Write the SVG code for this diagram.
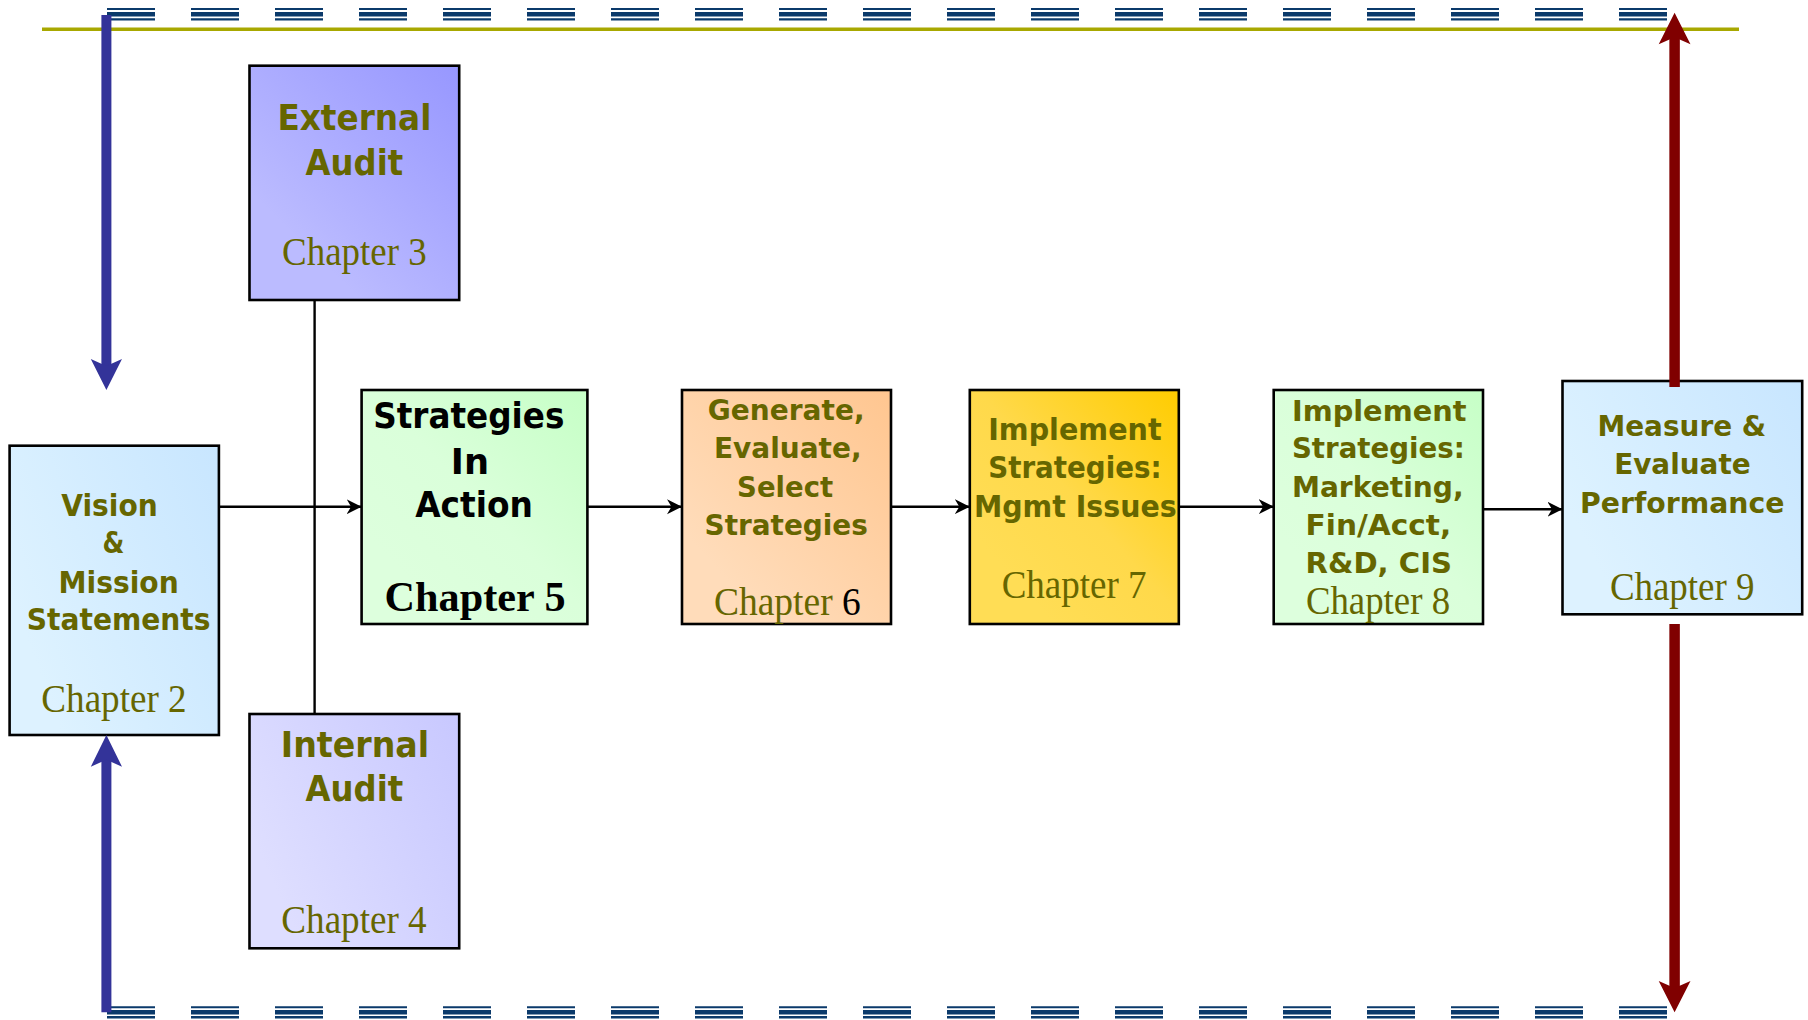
<svg xmlns="http://www.w3.org/2000/svg" width="1808" height="1020" viewBox="0 0 1808 1020">
<style>
.box{stroke:#000;stroke-width:2.6}
.t{font-family:"DejaVu Sans",Verdana,sans-serif;font-weight:bold;fill:#666600;text-anchor:middle}
.k{fill:#000}
.c{font-family:"Liberation Serif","Times New Roman",serif;fill:#666600;text-anchor:middle;font-size:39px}
.cb{font-family:"Liberation Serif","Times New Roman",serif;font-weight:bold;fill:#000;text-anchor:middle;font-size:43px}
.conn{stroke:#000;stroke-width:2.4;fill:none}
.dash{fill:none;stroke:#0b3a6b;stroke-dasharray:48 36}
</style>
<defs>
<marker id="ah" markerUnits="userSpaceOnUse" markerWidth="16" markerHeight="16" refX="15" refY="7.5" orient="auto">
<path d="M0,0 L15,7.5 L0,15 L4.5,7.5 Z" fill="#000"/>
</marker>
<linearGradient id="gExt" x1="1" y1="0" x2="0.3" y2="0.8"><stop offset="0" stop-color="#9797FF"/><stop offset="1" stop-color="#BBBBFF"/></linearGradient>
<linearGradient id="gInt" x1="1" y1="0" x2="0" y2="0.5"><stop offset="0" stop-color="#C8C8FF"/><stop offset="1" stop-color="#DEDEFF"/></linearGradient>
<linearGradient id="gBlue" x1="1" y1="0" x2="0" y2="0.5"><stop offset="0" stop-color="#C8E6FF"/><stop offset="1" stop-color="#DDF2FF"/></linearGradient>
<linearGradient id="gGreen" x1="1" y1="0" x2="0.2" y2="0.8"><stop offset="0" stop-color="#C6FFC6"/><stop offset="0.6" stop-color="#DAFFDA"/><stop offset="1" stop-color="#DDFFDD"/></linearGradient>
<linearGradient id="gPeach" x1="1" y1="0" x2="0.2" y2="0.8"><stop offset="0" stop-color="#FFC690"/><stop offset="1" stop-color="#FFDCBA"/></linearGradient>
<linearGradient id="gGold" x1="1" y1="0" x2="0.2" y2="0.8"><stop offset="0" stop-color="#FFCC00"/><stop offset="0.6" stop-color="#FFD94A"/><stop offset="1" stop-color="#FFDD55"/></linearGradient>
</defs>

<g id="frame">
<line class="dash" x1="107" y1="9" x2="1667.2" y2="9" stroke-width="2"/>
<line class="dash" x1="107" y1="14.3" x2="1667.2" y2="14.3" stroke-width="4.6"/>
<line class="dash" x1="107" y1="19.4" x2="1667.2" y2="19.4" stroke-width="2.4"/>
<line class="dash" x1="107" y1="1007.2" x2="1667.2" y2="1007.2" stroke-width="2"/>
<line class="dash" x1="107" y1="1012.3" x2="1667.2" y2="1012.3" stroke-width="4.6"/>
<line class="dash" x1="107" y1="1017.3" x2="1667.2" y2="1017.3" stroke-width="2.4"/>
<line x1="42" y1="29.3" x2="1739" y2="29.3" stroke="#A8A800" stroke-width="3.4"/>
</g>

<g id="connectors">
<line class="conn" x1="314.6" y1="300" x2="314.6" y2="714"/>
<line class="conn" x1="219" y1="506.7" x2="361.6" y2="506.7" marker-end="url(#ah)"/>
<line class="conn" x1="587.4" y1="506.7" x2="682" y2="506.7" marker-end="url(#ah)"/>
<line class="conn" x1="891" y1="506.7" x2="969.8" y2="506.7" marker-end="url(#ah)"/>
<line class="conn" x1="1178.8" y1="506.7" x2="1273.7" y2="506.7" marker-end="url(#ah)"/>
<line class="conn" x1="1483" y1="509.3" x2="1562.5" y2="509.3" marker-end="url(#ah)"/>
</g>

<g id="external">
<rect class="box" x="249.5" y="65.7" width="209.7" height="234.3" fill="url(#gExt)"/>
<text class="t" x="354.4" y="130" font-size="36" textLength="154" lengthAdjust="spacingAndGlyphs">External</text>
<text class="t" x="354.4" y="175" font-size="36" textLength="97.6" lengthAdjust="spacingAndGlyphs">Audit</text>
<text class="c" x="354.4" y="265" textLength="144.6" lengthAdjust="spacingAndGlyphs">Chapter 3</text>
</g>

<g id="internal">
<rect class="box" x="249.5" y="714" width="209.7" height="234.3" fill="url(#gInt)"/>
<text class="t" x="355" y="756.7" font-size="36" textLength="148.4" lengthAdjust="spacingAndGlyphs">Internal</text>
<text class="t" x="354.4" y="800.7" font-size="36" textLength="97.6" lengthAdjust="spacingAndGlyphs">Audit</text>
<text class="c" x="354" y="933" textLength="145.4" lengthAdjust="spacingAndGlyphs">Chapter 4</text>
</g>

<g id="vision">
<rect class="box" x="9.6" y="445.7" width="209.3" height="289.3" fill="url(#gBlue)"/>
<text class="t" x="109.5" y="516" font-size="30" textLength="96.5" lengthAdjust="spacingAndGlyphs">Vision</text>
<text class="t" x="113.5" y="553.3" font-size="30" textLength="21.8" lengthAdjust="spacingAndGlyphs">&amp;</text>
<text class="t" x="118.6" y="592.7" font-size="30" textLength="120.2" lengthAdjust="spacingAndGlyphs">Mission</text>
<text class="t" x="118.7" y="630" font-size="30" textLength="183.7" lengthAdjust="spacingAndGlyphs">Statements</text>
<text class="c" x="114" y="711.7" textLength="145.4" lengthAdjust="spacingAndGlyphs">Chapter 2</text>
</g>

<g id="strategies">
<rect class="box" x="361.6" y="390" width="225.8" height="234" fill="url(#gGreen)"/>
<text class="t k" x="468.8" y="428.3" font-size="35" textLength="191.3" lengthAdjust="spacingAndGlyphs">Strategies</text>
<text class="t k" x="469.9" y="474" font-size="35" textLength="38.2" lengthAdjust="spacingAndGlyphs">In</text>
<text class="t k" x="474.1" y="517.3" font-size="35" textLength="117.8" lengthAdjust="spacingAndGlyphs">Action</text>
<text class="cb" x="475.1" y="611" textLength="181" lengthAdjust="spacingAndGlyphs">Chapter 5</text>
</g>

<g id="generate">
<rect class="box" x="682" y="390" width="209" height="234" fill="url(#gPeach)"/>
<text class="t" x="786.2" y="420" font-size="29" textLength="156.7" lengthAdjust="spacingAndGlyphs">Generate,</text>
<text class="t" x="787.8" y="458.3" font-size="29" textLength="147.7" lengthAdjust="spacingAndGlyphs">Evaluate,</text>
<text class="t" x="785.1" y="496.7" font-size="29" textLength="96" lengthAdjust="spacingAndGlyphs">Select</text>
<text class="t" x="786.2" y="535" font-size="29" textLength="163.3" lengthAdjust="spacingAndGlyphs">Strategies</text>
<text class="c" x="713.9" y="615" style="text-anchor:start" textLength="118.8" lengthAdjust="spacingAndGlyphs">Chapter</text>
<text class="c" x="842.1" y="615" style="text-anchor:start;fill:#000" textLength="18.7" lengthAdjust="spacingAndGlyphs">6</text>
</g>

<g id="implement-mgmt">
<rect class="box" x="969.8" y="390" width="209" height="234" fill="url(#gGold)"/>
<text class="t" x="1074.9" y="440" font-size="30" textLength="173.4" lengthAdjust="spacingAndGlyphs">Implement</text>
<text class="t" x="1074.9" y="478.3" font-size="30" textLength="173.4" lengthAdjust="spacingAndGlyphs">Strategies:</text>
<text class="t" x="1075.3" y="516.7" font-size="30" textLength="202.8" lengthAdjust="spacingAndGlyphs">Mgmt Issues</text>
<text class="c" x="1074.1" y="597.7" textLength="144.9" lengthAdjust="spacingAndGlyphs">Chapter 7</text>
</g>

<g id="implement-functional">
<rect class="box" x="1273.7" y="390" width="209.3" height="234" fill="url(#gGreen)"/>
<text class="t" x="1379.2" y="420.7" font-size="29" textLength="174.5" lengthAdjust="spacingAndGlyphs">Implement</text>
<text class="t" x="1378.4" y="458.3" font-size="29" textLength="172.9" lengthAdjust="spacingAndGlyphs">Strategies:</text>
<text class="t" x="1377.8" y="496.7" font-size="29" textLength="171.8" lengthAdjust="spacingAndGlyphs">Marketing,</text>
<text class="t" x="1378.4" y="535" font-size="29" textLength="145.8" lengthAdjust="spacingAndGlyphs">Fin/Acct,</text>
<text class="t" x="1378.8" y="573.3" font-size="29" textLength="146.5" lengthAdjust="spacingAndGlyphs">R&amp;D, CIS</text>
<text class="c" x="1378" y="614.3" textLength="144.2" lengthAdjust="spacingAndGlyphs">Chapter 8</text>
</g>

<g id="measure">
<rect class="box" x="1562.5" y="381" width="239.7" height="233.3" fill="url(#gBlue)"/>
<text class="t" x="1681.8" y="436" font-size="28" textLength="168.7" lengthAdjust="spacingAndGlyphs">Measure &amp;</text>
<text class="t" x="1682.4" y="474.3" font-size="28" textLength="136.5" lengthAdjust="spacingAndGlyphs">Evaluate</text>
<text class="t" x="1682.2" y="512.7" font-size="28" textLength="204.3" lengthAdjust="spacingAndGlyphs">Performance</text>
<text class="c" x="1682.2" y="600" textLength="144.6" lengthAdjust="spacingAndGlyphs">Chapter 9</text>
</g>

<g id="feedback-arrows">
<line x1="106.4" y1="15" x2="106.4" y2="366" stroke="#333399" stroke-width="10"/>
<path d="M106.4,390 L122,359 L106.4,366 L90.8,359 Z" fill="#333399"/>
<line x1="106.4" y1="1012.3" x2="106.4" y2="759" stroke="#333399" stroke-width="10"/>
<path d="M106.4,735 L122,766.7 L106.4,759.7 L90.8,766.7 Z" fill="#333399"/>
<line x1="1674.6" y1="387" x2="1674.6" y2="37" stroke="#800000" stroke-width="10.5"/>
<path d="M1674.6,12.7 L1690.5,44.3 L1674.6,37.3 L1658.7,44.3 Z" fill="#800000"/>
<line x1="1674.6" y1="624" x2="1674.6" y2="988" stroke="#800000" stroke-width="10.5"/>
<path d="M1674.6,1012.3 L1690.5,981 L1674.6,988 L1658.7,981 Z" fill="#800000"/>
</g>
</svg>
